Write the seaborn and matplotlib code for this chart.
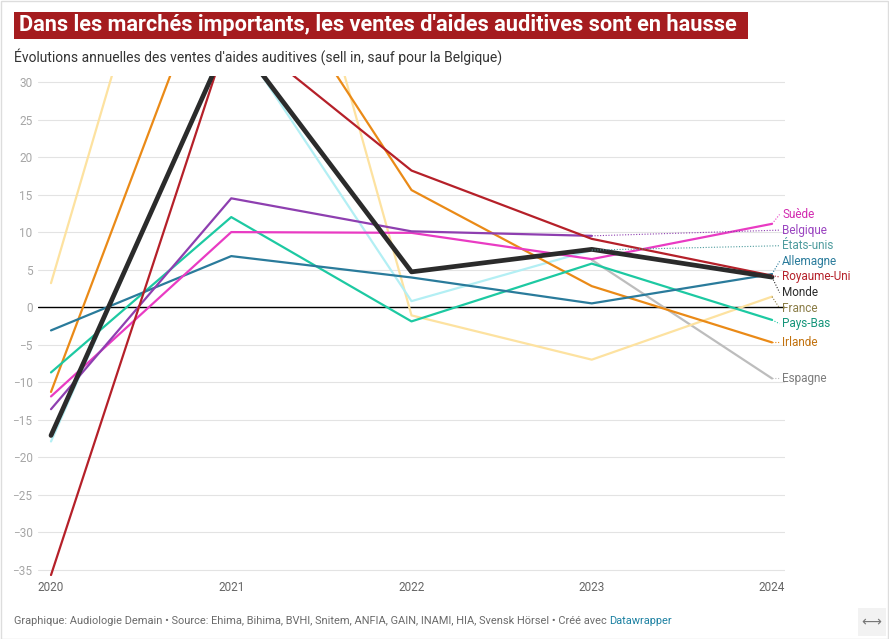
import numpy as np
import pandas as pd
import matplotlib.pyplot as plt
from matplotlib.patches import Rectangle
import seaborn as sns

# Données (évolution annuelle en %)
years = [2020, 2021, 2022, 2023, 2024]

monde = [-17.1, 36.5, 4.7, 7.7, 4.0]
royaume_uni = [-35.7, 37.5, 18.2, 9.1, 4.2]
irlande = [-11.3, 52.4, 15.6, 2.8, -4.7]
france = [3.2, 85.0, -1.1, -7.0, 1.4]
etats_unis = [-17.9, 37.0, 0.8, 7.6, np.nan]
belgique = [-13.6, 14.5, 10.1, 9.5, np.nan]
suede = [-11.9, 10.0, 9.9, 6.4, 11.1]
pays_bas = [-8.7, 12.0, -1.9, 5.8, -1.7]
allemagne = [-3.1, 6.8, 3.95, 0.5, 4.4]
espagne = [np.nan, np.nan, np.nan, 6.3, -9.5]

series = {
    'Espagne': espagne,
    'France': france,
    'États-unis': etats_unis,
    'Irlande': irlande,
    'Pays-Bas': pays_bas,
    'Allemagne': allemagne,
    'Suède': suede,
    'Belgique': belgique,
    'Royaume-Uni': royaume_uni,
    'Monde': monde,
}

line_colors = {
    'Espagne': '#bdbdbd', 'France': '#fde2a0', 'États-unis': '#b3eff4',
    'Irlande': '#ea8a17', 'Pays-Bas': '#1dc9a2', 'Allemagne': '#2a7b9b',
    'Suède': '#e93bc3', 'Belgique': '#8e3fb0', 'Royaume-Uni': '#b52029',
    'Monde': '#2b2b2b',
}
label_colors = {
    'Espagne': '#7d7d7d', 'France': '#8a7c46', 'États-unis': '#4f9c9e',
    'Irlande': '#c2720f', 'Pays-Bas': '#15957a', 'Allemagne': '#2a7b9b',
    'Suède': '#d22bb0', 'Belgique': '#9a44c0', 'Royaume-Uni': '#b52029',
    'Monde': '#2b2b2b',
}

rows = []
for name, vals in series.items():
    for y, v in zip(years, vals):
        rows.append({'pays': name, 'annee': y, 'valeur': v})
df = pd.DataFrame(rows)

sns.set_theme(style='white')
plt.rcParams['font.family'] = ['Roboto', 'DejaVu Sans']

fig = plt.figure(figsize=(8.89, 6.39), dpi=100)
ax = fig.add_axes([38 / 889, 1 - 575.8 / 639, 747 / 889, (575.8 - 76) / 639])

for i, name in enumerate(series):
    sub = df[df['pays'] == name].dropna()
    sns.lineplot(data=sub, x='annee', y='valeur', ax=ax, color=line_colors[name],
                 linewidth=3.4 if name == 'Monde' else 1.6, zorder=3 + i)

ax.set_xlim(2020 - 13 / 180.25, 2024 + 13 / 180.25)
ax.set_ylim(-35.8, 30.8)
yt = np.arange(-35, 31, 5)
ax.set_yticks(yt)
ax.set_yticklabels([('\u2212' + str(abs(t))) if t < 0 else str(t) for t in yt])
ax.set_xticks(years)
ax.set_xticklabels([str(y) for y in years])
ax.tick_params(axis='y', length=0, pad=4, labelsize=8.5, labelcolor='#a6a6a6')
ax.tick_params(axis='x', length=0, pad=4, labelsize=8.5, labelcolor='#666666')
for s in ax.spines.values():
    s.set_visible(False)
for t in yt:
    if t != 0:
        ax.axhline(t, color='#e3e3e3', lw=0.8, zorder=1)
ax.axhline(0, color='black', lw=1.0, zorder=2)
ax.set_xlabel('')
ax.set_ylabel('')


def repel(vals, gap):
    groups = []
    for v in vals:
        groups.append([v, 1])
        while len(groups) > 1:
            c1, n1 = groups[-2]
            c2, n2 = groups[-1]
            if (c1 - (n1 - 1) / 2 * gap) - (c2 + (n2 - 1) / 2 * gap) < gap:
                n = n1 + n2
                groups[-2:] = [[(c1 * n1 + c2 * n2) / n, n]]
            else:
                break
    out = []
    for c, n in groups:
        for k in range(n):
            out.append(c + ((n - 1) / 2 - k) * gap)
    return out


# étiquettes à droite
ends = []
for name, vals in series.items():
    s = pd.Series(vals, index=years).dropna()
    ends.append((name, s.index[-1], s.iloc[-1]))
ends.sort(key=lambda e: -e[2])
label_y = repel([e[2] for e in ends], 2.08)
for (name, lx, ly), yy in zip(ends, label_y):
    ax.plot([lx, 2024.042], [ly, yy], ls=(0, (1, 1.5)), lw=0.8,
            color=line_colors[name] if name not in ('France', 'États-unis') else label_colors[name],
            clip_on=False, zorder=20)
    ax.text(2024.056, yy, name, color=label_colors[name], fontsize=8.5,
            va='center', ha='left', clip_on=False)

# titre
fig.patches.append(Rectangle((14 / 889, 1 - 39 / 639), 734 / 889, 27 / 639,
                             transform=fig.transFigure, facecolor='#a51c1f',
                             edgecolor='none'))
fig.text(19 / 889, 1 - 25.5 / 639,
         "Dans les marchés importants, les ventes d'aides auditives sont en hausse",
         color='white', fontsize=15.7, fontweight='bold', va='center', ha='left')
fig.text(14 / 889, 1 - 57 / 639,
         "Évolutions annuelles des ventes d'aides auditives (sell in, sauf pour la Belgique)",
         color='#333333', fontsize=10.0, va='center', ha='left')

# source
src = fig.text(14 / 889, 1 - 621 / 639,
               "Graphique: Audiologie Demain • Source: Ehima, Bihima, BVHI, Snitem, ANFIA, GAIN, "
               "INAMI, HIA, Svensk Hörsel • Créé avec ",
               color='#6b6b6b', fontsize=7.9, va='center', ha='left')
fig.canvas.draw()
bb = src.get_window_extent()
fig.text(bb.x1 / fig.bbox.width, 1 - 621 / 639, "Datawrapper", color='#1d81a2',
         fontsize=7.9, va='center', ha='left')

fig.patches.append(Rectangle((858 / 889, 1 - 636 / 639), 28 / 889, 28 / 639,
                             transform=fig.transFigure, facecolor='#f2f2f2',
                             edgecolor='none'))
fig.text(871 / 889, 1 - 622 / 639, '\u27f7', color='#777777', fontsize=10,
         va='center', ha='center')
fig.patches.append(Rectangle((0.5 / 889, 0.5 / 639), 887.5 / 889, 637.5 / 639,
                             transform=fig.transFigure, facecolor='none',
                             edgecolor='#dddddd', lw=1))

fig.savefig('out.png', dpi=100)
